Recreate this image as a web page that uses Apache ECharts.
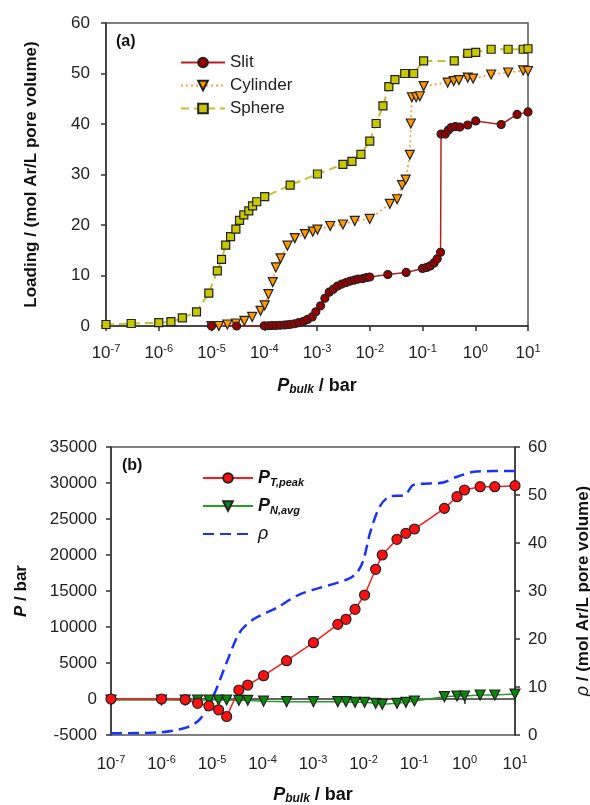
<!DOCTYPE html>
<html>
<head>
<meta charset="utf-8">
<script src="https://cdn.jsdelivr.net/npm/echarts@6/dist/echarts.min.js"></script>
<style>
  html, body { margin: 0; padding: 0; background: #fff; }
  #chart { width: 590px; height: 805px; }
</style>
</head>
<body>
<div id="chart"></div>
<script>
// ---- panel (a): loading vs bulk pressure ----
var slitP = [1e-5, 3e-5, 1e-4, 1.2e-4, 1.4e-4, 1.66e-4, 2e-4, 2.4e-4, 2.75e-4, 3.2e-4, 3.8e-4, 4.5e-4, 5.5e-4, 6.6e-4, 8.1e-4, 9.5e-4,
    1.17e-3, 1.41e-3, 1.7e-3, 2.04e-3, 2.45e-3, 2.95e-3, 3.55e-3, 4.27e-3, 5.13e-3, 6e-3, 7.4e-3, 8.7e-3, 1e-2, 2.2e-2, 4.9e-2,
    0.1, 0.12, 0.14, 0.166, 0.19, 0.22, 0.225, 0.27, 0.31, 0.35, 0.42, 0.51, 0.72, 1.02, 3.1, 6.2, 10];
var slitLoad = [0, 0, 0.05, 0.05, 0.1, 0.1, 0.15, 0.2, 0.25, 0.35, 0.45, 0.65, 0.9, 1.3, 1.8, 2.8,
    4.0, 5.5, 6.7, 7.3, 7.9, 8.3, 8.6, 8.9, 9.1, 9.3, 9.4, 9.6, 9.7, 10.2, 10.6,
    11.4, 11.6, 11.9, 12.5, 13.3, 14.6, 38.0, 38.0, 38.8, 39.3, 39.5, 39.4, 39.8, 40.6, 39.9, 41.9, 42.4];

var cylP = [1e-5, 1.38e-5, 2e-5, 2.9e-5, 4.2e-5, 5.9e-5, 8.5e-5, 1.02e-4, 1.2e-4, 1.45e-4, 1.66e-4, 2.04e-4, 2.75e-4, 3.8e-4,
    5.9e-4, 8.3e-4, 1.02e-3, 1.78e-3, 3.1e-3, 5.2e-3, 1e-2, 2.4e-2, 3.3e-2, 4.1e-2, 4.8e-2, 5.75e-2, 6e-2, 6.3e-2, 7.6e-2, 8.9e-2,
    0.105, 0.3, 0.39, 0.49, 0.72, 0.91, 2.0, 4.2, 8.1, 10];
var cylLoad = [0, 0, 0.3, 0.5, 1.0, 1.8, 3.0, 4.1, 6.3, 8.7, 11.6, 13.4, 15.9, 17.4,
    18.2, 18.7, 19.1, 19.8, 20.1, 20.8, 21.2, 24.2, 25.1, 27.9, 29.0, 33.9, 40.1, 45.3, 45.3, 45.5,
    47.5, 48.2, 48.5, 48.7, 49.2, 49.0, 49.8, 50.2, 50.6, 50.5];

var sphP = [1e-7, 3e-7, 1e-6, 1.7e-6, 2.8e-6, 5.2e-6, 8.9e-6, 1.29e-5, 1.55e-5, 1.86e-5, 2.3e-5, 2.9e-5, 3.4e-5, 4.1e-5, 5.1e-5,
    6e-5, 7.2e-5, 1.02e-4, 3.1e-4, 1.02e-3, 3.1e-3, 4.6e-3, 6.8e-3, 1e-2, 1.32e-2, 1.78e-2, 2.3e-2, 3e-2, 4.6e-2, 6.8e-2,
    0.105, 0.4, 0.72, 1.02, 2.0, 4.2, 8.1, 10];
var sphLoad = [0.3, 0.5, 0.65, 0.85, 1.6, 2.8, 6.5, 10.9, 13.2, 16.0, 17.7, 19.2, 20.9, 22.0, 22.8,
    23.8, 24.6, 25.6, 27.9, 30.1, 32.0, 32.6, 34.0, 36.6, 40.1, 43.6, 47.4, 48.8, 50.0, 50.0,
    52.5, 52.5, 54.0, 54.2, 54.8, 54.8, 54.8, 54.9];

// ---- panel (b): pressure tensor components and density ----
var bP = [1e-7, 1e-6, 2.95e-6, 5.2e-6, 8.7e-6, 1.35e-5, 1.95e-5, 3.4e-5, 5.1e-5, 1.05e-4, 3.0e-4,
    1.02e-3, 3.1e-3, 4.5e-3, 6.8e-3, 1.05e-2, 1.74e-2, 2.35e-2, 4.6e-2, 6.9e-2, 0.102, 0.4, 0.71, 1.0, 2.04, 3.98, 10];
var pTpeak = [0, 0, -100, -600, -960, -1500, -2430, 1250, 1940, 3240, 5320,
    7820, 10370, 11070, 12460, 14440, 18010, 20000, 22180, 23010, 23610, 26480, 28100, 29030, 29490, 29490, 29630];
var pNavg = [-140, -140, -140, -140, -140, -140, -140, -180, -180, -300, -370,
    -370, -370, -370, -460, -460, -600, -740, -600, -460, -280, 320, 420, 420, 555, 555, 690];

var rhoP = [1e-7, 9e-7, 3.2e-6, 5.8e-6, 1.07e-5, 1.95e-5, 3.5e-5, 6.6e-5, 1.9e-4, 5.5e-4, 4.7e-3, 7.4e-3,
    1e-2, 1.35e-2, 2.1e-2, 3.3e-2, 6.6e-2, 9.8e-2, 0.38, 0.71, 1.74, 10];
var rho = [0.35, 0.55, 1.6, 3.3, 8.2, 15.1, 21.3, 24.1, 26.5, 29.3, 32.4, 33.8,
    36.5, 42.1, 47.6, 49.7, 50.0, 52.1, 52.6, 53.8, 54.9, 55.0];

var yTicksA = [0, 60, 10];
var yTicksB = [-5000, 35000, 5000];
var yTicksRho = [0, 60, 10];

function zip(xs, ys) {
    return xs.map(function (x, i) { return [x, ys[i]]; });
}

var FONT = '"Liberation Sans", Arial, sans-serif';
var supRich = {
    sup: { fontSize: 11, fontFamily: FONT, color: '#222', padding: [0, 0, 9, 0] }
};

function logAxis(gridIndex, nameGap, labelMargin) {
    return {
        type: 'log',
        logBase: 10,
        gridIndex: gridIndex,
        min: 1e-7,
        max: 10,
        splitNumber: 8,
        name: '{p|P}{s|bulk}{t| / bar}',
        nameLocation: 'middle',
        nameGap: nameGap,
        nameTextStyle: {
            rich: {
                p: { fontSize: 18, fontWeight: 'bold', fontStyle: 'italic', fontFamily: FONT, color: '#111' },
                s: { fontSize: 12, fontWeight: 'bold', fontStyle: 'italic', fontFamily: FONT, color: '#111', padding: [8, 0, 0, 0] },
                t: { fontSize: 18, fontWeight: 'bold', fontFamily: FONT, color: '#111' }
            }
        },
        axisLine: { lineStyle: { color: '#333', width: 1.5 } },
        axisTick: { length: 5, lineStyle: { color: '#333', width: 1.5 } },
        minorTick: { show: false },
        splitLine: { show: false },
        axisLabel: {
            margin: labelMargin,
            fontSize: 17,
            fontFamily: FONT,
            color: '#222',
            formatter: function (v) {
                var e = Math.round(Math.log10(v));
                return '10{sup|' + e + '}';
            },
            rich: supRich
        }
    };
}

function valueAxis(gridIndex, ticks, pos, labelMargin, extra) {
    var ax = {
        type: 'value',
        gridIndex: gridIndex,
        position: pos,
        min: ticks[0],
        max: ticks[1],
        interval: ticks[2],
        axisLine: { show: true, lineStyle: { color: '#333', width: 1.5 } },
        axisTick: { show: true, length: 5, lineStyle: { color: '#333', width: 1.5 } },
        splitLine: { show: false },
        axisLabel: {
            fontSize: 17, fontFamily: FONT, color: '#222', margin: labelMargin,
            formatter: function (v) { return String(v); }
        },
        nameLocation: 'middle',
        nameRotate: 90
    };
    for (var k in extra) ax[k] = extra[k];
    return ax;
}

var chart = echarts.init(document.getElementById('chart'));

var option = {
    animation: false,
    backgroundColor: '#fff',
    grid: [
        { left: 106, top: 23, width: 422, height: 303, show: true, borderColor: '#555', borderWidth: 1.5,
          backgroundColor: 'transparent', outerBoundsMode: 'none', containLabel: false },
        { left: 111, top: 447, width: 404, height: 288, show: true, borderColor: '#555', borderWidth: 1.5,
          backgroundColor: 'transparent', outerBoundsMode: 'none', containLabel: false }
    ],
    xAxis: [logAxis(0, 50, 17), logAxis(1, 50, 19)],
    yAxis: [
        valueAxis(0, yTicksA, 'left', 16, {
            name: 'Loading / (mol Ar/L pore volume)',
            nameGap: 66,
            nameTextStyle: { fontSize: 17, fontWeight: 'bold', fontFamily: FONT, color: '#111' }
        }),
        valueAxis(1, yTicksB, 'left', 14, {
            name: '{i|P}{t| / bar}',
            nameGap: 81,
            nameTextStyle: {
                rich: {
                    i: { fontSize: 17, fontWeight: 'bold', fontStyle: 'italic', fontFamily: FONT, color: '#111' },
                    t: { fontSize: 17, fontWeight: 'bold', fontFamily: FONT, color: '#111' }
                }
            }
        }),
        valueAxis(1, yTicksRho, 'right', 13, {
            name: '{i|ρ}{t| / (mol Ar/L pore volume)}',
            nameGap: 59,
            nameRotate: 90,
            nameTextStyle: {
                rich: {
                    i: { fontSize: 18, fontStyle: 'italic', fontFamily: FONT, color: '#111' },
                    t: { fontSize: 17, fontWeight: 'bold', fontFamily: FONT, color: '#111' }
                }
            }
        })
    ],
    legend: [
        {
            left: 175, top: 49, orient: 'vertical',
            itemWidth: 44, itemHeight: 12, itemGap: 6,
            data: ['Slit', 'Cylinder', 'Sphere'],
            textStyle: { fontSize: 17, fontFamily: FONT, color: '#222' }
        },
        {
            left: 197, top: 464, orient: 'vertical',
            itemWidth: 50, itemHeight: 12, itemGap: 9,
            data: ['PT', 'PN', { name: 'rho', itemStyle: { opacity: 0 } }],
            formatter: function (name) {
                if (name === 'PT') return '{p|P}{s|T,peak}';
                if (name === 'PN') return '{p|P}{s|N,avg}';
                return '{r|ρ}';
            },
            textStyle: {
                rich: {
                    p: { fontSize: 18, fontWeight: 'bold', fontStyle: 'italic', fontFamily: FONT, color: '#111' },
                    s: { fontSize: 11, fontWeight: 'bold', fontStyle: 'italic', fontFamily: FONT, color: '#111', padding: [9, 0, 0, 0] },
                    r: { fontSize: 18, fontStyle: 'italic', fontFamily: FONT, color: '#111' }
                }
            }
        }
    ],
    graphic: [
        { type: 'text', left: 116, top: 34, style: { text: '(a)', font: 'bold 16px ' + FONT, fill: '#111' } },
        { type: 'text', left: 122, top: 458, style: { text: '(b)', font: 'bold 16px ' + FONT, fill: '#111' } }
    ],
    series: [
        {
            name: 'Sphere', type: 'line', xAxisIndex: 0, yAxisIndex: 0,
            data: zip(sphP, sphLoad),
            symbol: 'rect', symbolSize: 8,
            lineStyle: { color: '#c2c230', width: 2, type: [8, 5] },
            itemStyle: { color: '#c8c800', borderColor: '#222', borderWidth: 1.2 }
        },
        {
            name: 'Cylinder', type: 'line', xAxisIndex: 0, yAxisIndex: 0,
            data: zip(cylP, cylLoad),
            symbol: 'triangle', symbolRotate: 180, symbolSize: 9,
            lineStyle: { color: '#ffa030', width: 1.8, type: [2, 3] },
            itemStyle: { color: '#ff9900', borderColor: '#222', borderWidth: 1.2 }
        },
        {
            name: 'Slit', type: 'line', xAxisIndex: 0, yAxisIndex: 0,
            data: zip(slitP, slitLoad),
            symbol: 'circle', symbolSize: 8,
            lineStyle: { color: '#b22222', width: 1.5 },
            itemStyle: { color: '#9b0000', borderColor: '#222', borderWidth: 1.2 }
        },
        {
            name: 'rho', type: 'line', xAxisIndex: 1, yAxisIndex: 2,
            data: zip(rhoP, rho),
            symbol: 'none', smooth: 0.3,
            lineStyle: { color: '#1a32ff', width: 2.5, type: [11, 6] },
            itemStyle: { color: '#1a32ff' }
        },
        {
            name: 'PN', type: 'line', xAxisIndex: 1, yAxisIndex: 1,
            data: zip(bP, pNavg),
            symbol: 'triangle', symbolRotate: 180, symbolSize: 10,
            lineStyle: { color: '#22a022', width: 1.5 },
            itemStyle: { color: '#0a8a0a', borderColor: '#222', borderWidth: 1.2 }
        },
        {
            name: 'PT', type: 'line', xAxisIndex: 1, yAxisIndex: 1,
            data: zip(bP, pTpeak),
            symbol: 'circle', symbolSize: 10,
            lineStyle: { color: '#ff1a1a', width: 1.5 },
            itemStyle: { color: '#ff1010', borderColor: '#222', borderWidth: 1.2 }
        }
    ]
};

chart.setOption(option);
</script>
</body>
</html>
